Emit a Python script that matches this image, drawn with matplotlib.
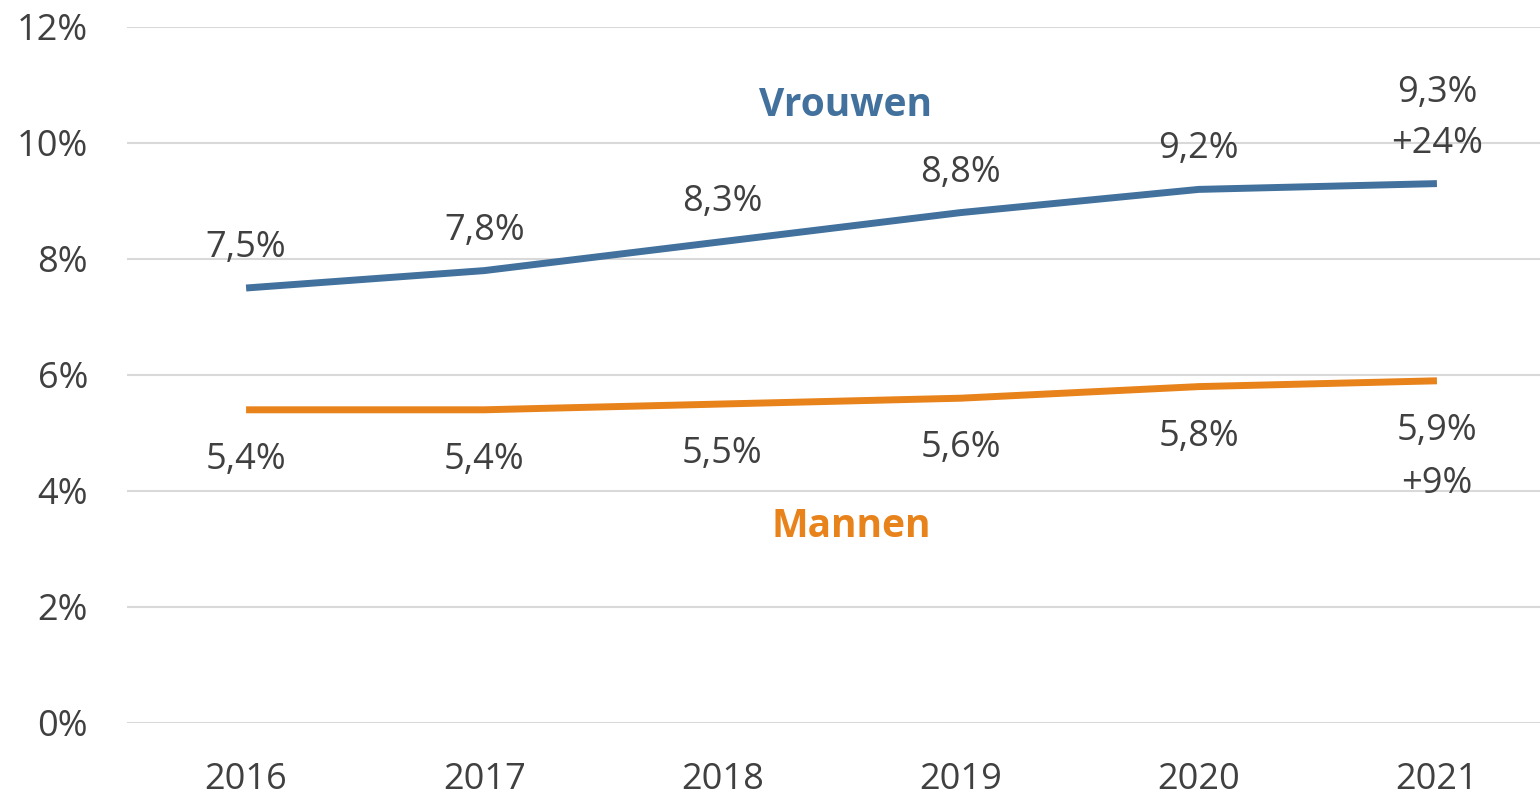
import matplotlib
matplotlib.use("Agg")
import matplotlib.pyplot as plt
from matplotlib.ticker import FuncFormatter

years = ["2016", "2017", "2018", "2019", "2020", "2021"]
vrouwen = [0.075, 0.078, 0.083, 0.088, 0.092, 0.093]
mannen = [0.054, 0.054, 0.055, 0.056, 0.058, 0.059]
vrouwen_labels = ["7,5%", "7,8%", "8,3%", "8,8%", "9,2%", "9,3%"]
mannen_labels = ["5,4%", "5,4%", "5,5%", "5,6%", "5,8%", "5,9%"]
vrouwen_change = "+24%"
mannen_change = "+9%"

blue = "#41719C"
orange = "#E8821A"
grey = "#404040"

plt.rcParams['font.family'] = ['Open Sans', 'DejaVu Sans']
FS = 26
PX = 72 / 100  # points per pixel

fig = plt.figure(figsize=(15.4, 7.95), dpi=100)
ax = fig.add_axes([127/1540, 72/795, 1 - 127/1540, (768-72)/795])

x = list(range(len(years)))
ax.plot(x, vrouwen, color=blue, lw=5, solid_capstyle='butt')
ax.plot(x, mannen, color=orange, lw=5, solid_capstyle='butt')

ax.set_ylim(0, 0.12)
ax.set_xlim(-0.5, 5.5 - 16/238)
ax.set_yticks([0, 0.02, 0.04, 0.06, 0.08, 0.10, 0.12])
ax.yaxis.set_major_formatter(FuncFormatter(lambda v, p: f"{v*100:.0f}%"))
ax.set_xticks(x)
ax.set_xticklabels(years)
ax.tick_params(axis='both', length=0, labelsize=FS, colors=grey)
ax.tick_params(axis='x', pad=28)
ax.tick_params(axis='y', pad=28)
ax.grid(axis='y', color='#D9D9D9', lw=1.5)
ax.set_axisbelow(True)
for s in ax.spines.values():
    s.set_visible(False)

n = len(x)
for i, (xi, v, lab) in enumerate(zip(x, vrouwen, vrouwen_labels)):
    off = 40 if i < n - 1 else 91
    ax.annotate(lab, (xi, v), xytext=(0, off * PX), textcoords='offset points',
                ha='center', va='center', fontsize=FS, color=grey)
for xi, v, lab in zip(x, mannen, mannen_labels):
    ax.annotate(lab, (xi, v), xytext=(0, -50 * PX), textcoords='offset points',
                ha='center', va='center', fontsize=FS, color=grey)

ax.annotate(vrouwen_change, (x[-1], vrouwen[-1]), xytext=(0, 40 * PX),
            textcoords='offset points', ha='center', va='center', fontsize=FS, color=grey)
ax.annotate(mannen_change, (x[-1], mannen[-1]), xytext=(0, -103 * PX),
            textcoords='offset points', ha='center', va='center', fontsize=FS, color=grey)

ax.text(2.515, 0.1064, "Vrouwen", color=blue, fontsize=28, fontweight='bold',
        ha='center', va='center')
ax.text(2.54, 0.0338, "Mannen", color=orange, fontsize=28, fontweight='bold',
        ha='center', va='center')

fig.savefig("out.png", dpi=100)
